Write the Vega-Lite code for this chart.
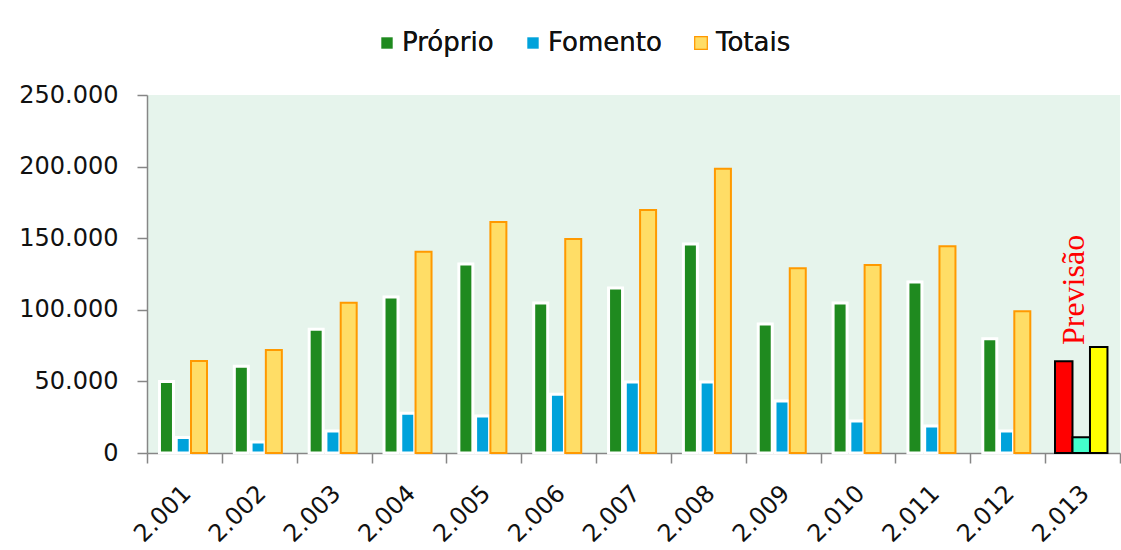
{
  "$schema": "https://vega.github.io/schema/vega-lite/v6.json",
  "width": 973,
  "height": 358,
  "autosize": {"type": "none"},
  "padding": {"left": 147, "top": 95, "right": 1, "bottom": 97},
  "background": "white",
  "config": {
    "view": {"fill": "#E6F4EC", "stroke": null},
    "font": "DejaVu Sans"
  },
  "data": {
    "values": [
      {"ano": "2.001", "serie": "Próprio", "valor": 50000, "tipo": "real"},
      {"ano": "2.001", "serie": "Fomento", "valor": 10800, "tipo": "real"},
      {"ano": "2.001", "serie": "Totais", "valor": 64300, "tipo": "real"},
      {"ano": "2.002", "serie": "Próprio", "valor": 60500, "tipo": "real"},
      {"ano": "2.002", "serie": "Fomento", "valor": 7700, "tipo": "real"},
      {"ano": "2.002", "serie": "Totais", "valor": 72000, "tipo": "real"},
      {"ano": "2.003", "serie": "Próprio", "valor": 86500, "tipo": "real"},
      {"ano": "2.003", "serie": "Fomento", "valor": 15400, "tipo": "real"},
      {"ano": "2.003", "serie": "Totais", "valor": 105000, "tipo": "real"},
      {"ano": "2.004", "serie": "Próprio", "valor": 109000, "tipo": "real"},
      {"ano": "2.004", "serie": "Fomento", "valor": 27800, "tipo": "real"},
      {"ano": "2.004", "serie": "Totais", "valor": 140500, "tipo": "real"},
      {"ano": "2.005", "serie": "Próprio", "valor": 132000, "tipo": "real"},
      {"ano": "2.005", "serie": "Fomento", "valor": 25800, "tipo": "real"},
      {"ano": "2.005", "serie": "Totais", "valor": 161300, "tipo": "real"},
      {"ano": "2.006", "serie": "Próprio", "valor": 104700, "tipo": "real"},
      {"ano": "2.006", "serie": "Fomento", "valor": 41000, "tipo": "real"},
      {"ano": "2.006", "serie": "Totais", "valor": 149400, "tipo": "real"},
      {"ano": "2.007", "serie": "Próprio", "valor": 115200, "tipo": "real"},
      {"ano": "2.007", "serie": "Fomento", "valor": 49600, "tipo": "real"},
      {"ano": "2.007", "serie": "Totais", "valor": 169700, "tipo": "real"},
      {"ano": "2.008", "serie": "Próprio", "valor": 146000, "tipo": "real"},
      {"ano": "2.008", "serie": "Fomento", "valor": 49600, "tipo": "real"},
      {"ano": "2.008", "serie": "Totais", "valor": 198500, "tipo": "real"},
      {"ano": "2.009", "serie": "Próprio", "valor": 90000, "tipo": "real"},
      {"ano": "2.009", "serie": "Fomento", "valor": 36300, "tipo": "real"},
      {"ano": "2.009", "serie": "Totais", "valor": 129000, "tipo": "real"},
      {"ano": "2.010", "serie": "Próprio", "valor": 104700, "tipo": "real"},
      {"ano": "2.010", "serie": "Fomento", "valor": 22300, "tipo": "real"},
      {"ano": "2.010", "serie": "Totais", "valor": 131300, "tipo": "real"},
      {"ano": "2.011", "serie": "Próprio", "valor": 119500, "tipo": "real"},
      {"ano": "2.011", "serie": "Fomento", "valor": 18900, "tipo": "real"},
      {"ano": "2.011", "serie": "Totais", "valor": 144300, "tipo": "real"},
      {"ano": "2.012", "serie": "Próprio", "valor": 79700, "tipo": "real"},
      {"ano": "2.012", "serie": "Fomento", "valor": 15400, "tipo": "real"},
      {"ano": "2.012", "serie": "Totais", "valor": 99000, "tipo": "real"},
      {"ano": "2.013", "serie": "Próprio", "valor": 64000, "tipo": "previsão"},
      {"ano": "2.013", "serie": "Fomento", "valor": 11000, "tipo": "previsão"},
      {"ano": "2.013", "serie": "Totais", "valor": 74000, "tipo": "previsão"}
    ]
  },
  "encoding": {
    "x": {
      "field": "ano",
      "type": "ordinal",
      "sort": null,
      "scale": {"paddingInner": 0, "paddingOuter": 0},
      "axis": {
        "title": null,
        "labelAngle": -45,
        "labelFont": "DejaVu Sans",
        "labelFontSize": 24,
        "labelColor": "#111111",
        "domainColor": "#868686",
        "domainWidth": 1.5,
        "tickColor": "#868686",
        "tickWidth": 1.5,
        "tickSize": 10,
        "tickBand": "extent",
        "labelPadding": 18,
        "labelOffset": -6
      }
    },
    "y": {
      "field": "valor",
      "type": "quantitative",
      "scale": {"domain": [0, 250000], "nice": false},
      "axis": {
        "title": null,
        "values": [0, 50000, 100000, 150000, 200000, 250000],
        "labelExpr": "replace(format(datum.value, ','), ',', '.')",
        "labelFont": "DejaVu Sans",
        "labelFontSize": 24,
        "labelColor": "#111111",
        "domainColor": "#868686",
        "domainWidth": 1.5,
        "tickColor": "#868686",
        "tickWidth": 1.5,
        "tickSize": 10,
        "labelPadding": 19,
        "grid": false
      }
    }
  },
  "layer": [
    {
      "transform": [{"filter": "datum.tipo === 'real' && datum.serie !== 'Totais'"}],
      "mark": {"type": "bar", "strokeWidth": 3},
      "encoding": {
        "xOffset": {
          "field": "serie",
          "sort": null,
          "scale": {"domain": ["Próprio", "Fomento", "Totais"], "paddingInner": 0.164, "paddingOuter": 0.817, "align": 0.456}
        },
        "color": {
          "field": "serie",
          "type": "nominal",
          "scale": {"domain": ["Próprio", "Fomento", "Totais"], "range": ["#1F8A1F", "#00A2DB", "#FFDD66"]},
          "legend": {
            "title": null,
            "orient": "none",
            "legendX": 227,
            "legendY": -65,
            "direction": "horizontal",
            "labelFont": "DejaVu Sans",
            "labelFontSize": 26,
            "labelColor": "#111111",
            "symbolType": "square",
            "symbolSize": 130,
            "symbolStrokeWidth": 2.5,
            "labelOffset": 2,
            "columnPadding": 26
          }
        },
        "stroke": {
          "field": "serie",
          "type": "nominal",
          "scale": {"domain": ["Próprio", "Fomento", "Totais"], "range": ["#FFFFFF", "#FFFFFF", "#FF9900"]},
          "legend": {
            "title": null,
            "orient": "none",
            "legendX": 227,
            "legendY": -65,
            "direction": "horizontal",
            "labelFont": "DejaVu Sans",
            "labelFontSize": 26,
            "labelColor": "#111111",
            "symbolType": "square",
            "symbolSize": 130,
            "symbolStrokeWidth": 2.5,
            "labelOffset": 2,
            "columnPadding": 26
          }
        }
      }
    },
    {
      "transform": [{"filter": "datum.tipo === 'real' && datum.serie === 'Totais'"}],
      "mark": {"type": "bar", "stroke": "#FF9900", "strokeWidth": 2},
      "encoding": {
        "xOffset": {
          "field": "serie",
          "sort": null,
          "scale": {"domain": ["Próprio", "Fomento", "Totais"], "paddingInner": 0, "paddingOuter": 0.839, "align": 0.447}
        },
        "color": {
          "field": "serie",
          "type": "nominal",
          "scale": {"domain": ["Próprio", "Fomento", "Totais"], "range": ["#1F8A1F", "#00A2DB", "#FFDD66"]},
          "legend": null
        }
      }
    },
    {
      "transform": [{"filter": "datum.tipo === 'previsão'"}],
      "mark": {"type": "bar", "stroke": "#000000", "strokeWidth": 2},
      "encoding": {
        "xOffset": {
          "field": "serie",
          "sort": null,
          "scale": {"domain": ["Próprio", "Fomento", "Totais"], "paddingInner": 0, "paddingOuter": 0.64, "align": 0.44}
        },
        "color": {
          "field": "serie",
          "type": "nominal",
          "scale": {"domain": ["Próprio", "Fomento", "Totais"], "range": ["#FF0000", "#44FFCC", "#FFFF00"]},
          "legend": null
        }
      }
    },
    {
      "transform": [{"filter": "datum.tipo === 'previsão' && datum.serie === 'Totais'"}],
      "mark": {
        "type": "text",
        "text": "Previsão",
        "angle": 270,
        "align": "left",
        "baseline": "middle",
        "font": "Liberation Serif",
        "fontSize": 32,
        "color": "#FF0000",
        "dx": 2,
        "dy": -9
      },
      "encoding": {}
    }
  ],
  "resolve": {"scale": {"color": "independent", "xOffset": "independent"}}
}
